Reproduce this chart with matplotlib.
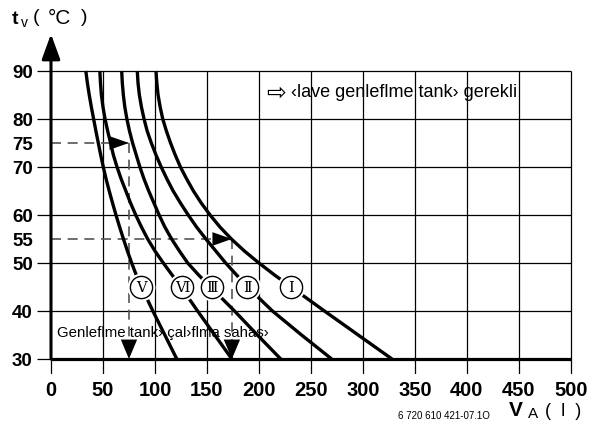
# Expansion vessel sizing chart: flow temperature vs. system volume
import matplotlib.pyplot as plt

temps = [90, 87.5, 85, 82.5, 80, 77.5, 75, 72.5, 70, 67.5, 65, 62.5, 60,
         57.5, 55, 52.5, 50, 47.5, 45, 42.5, 40, 35, 30]
vol_V = [33.5, 35, 36.8, 38.8, 41, 43.2, 45.5, 47.8, 50.3, 53, 56, 59.2, 62.5,
         66, 69.7, 73.5, 77.6, 82, 87, 92.5, 98, 109.5, 121]
vol_VI = [47, 47.6, 48.5, 50, 52, 54.5, 57.3, 60, 63.5, 67.5, 72, 76.5, 81.5,
          87, 93, 100, 108, 116.5, 125, 133, 141, 157.5, 174]
vol_III = [68, 68.6, 69.6, 71, 73, 75.5, 78.5, 82, 85.5, 89.5, 94, 99, 104,
           109.5, 116, 123.5, 131.5, 142, 153.5, 165, 176.5, 198.5, 221]
vol_II = [83, 83.7, 85, 87, 89.5, 92.5, 96.5, 101, 106, 111.5, 117.5, 124.5, 132,
          140, 149, 158.5, 168, 178.5, 189.5, 201, 213, 241, 270]
vol_I = [101, 101.8, 103, 105, 107.5, 111, 115, 119.5, 124.5, 130.5, 137, 144.5, 153,
         162.5, 173.5, 186, 200, 215, 231, 247, 263, 295.5, 328]
curves = [vol_V, vol_VI, vol_III, vol_II, vol_I]

label_names = ['Ⅴ', 'Ⅵ', 'Ⅲ', 'Ⅱ', 'Ⅰ']
label_x = [87, 126, 155, 189, 231]
label_t = 45

x_ticks = [0, 50, 100, 150, 200, 250, 300, 350, 400, 450, 500]
y_ticks = [30, 40, 50, 55, 60, 70, 75, 80, 90]
grid_t = [40, 50, 60, 70, 80, 90]

# dashed reading examples (temperature -> volume)
ex_t = [75, 55]
ex_v = [75, 174]

plt.rcParams['font.family'] = ['Liberation Sans', 'DejaVu Sans']

fig = plt.figure(figsize=(5.92, 4.31), dpi=100)
W, H = 592, 431
ax = fig.add_axes([37 / W, 1 - 375 / H, (576 - 37) / W, (375 - 35) / H])
ax.set_xlim(-13.46, 505)
ax.set_ylim(26.875, 97.7)
for s in ax.spines.values():
    s.set_visible(False)

# grid
ax.hlines(grid_t, -13.46, 500, color='k', lw=0.9, zorder=1)
ax.hlines(30, -13.46, 0, color='k', lw=0.9, zorder=1)
ax.vlines(x_ticks[1:], 26.875, 90, color='k', lw=0.9, zorder=1)
ax.vlines(0, 26.875, 30, color='k', lw=0.9, zorder=1)

# axes lines
ax.plot([0, 500], [30, 30], color='k', lw=2.3, solid_capstyle='butt', zorder=3)
ax.annotate('', xy=(0, 97.7), xytext=(0, 30),
            arrowprops=dict(arrowstyle='-|>,head_length=1.1,head_width=0.4',
                            lw=2.2, color='k', mutation_scale=14,
                            shrinkA=0, shrinkB=0), zorder=3)

ax.set_xticks(x_ticks)
ax.set_yticks(y_ticks)
ax.tick_params(length=0)
ax.tick_params(axis='x', pad=4, labelsize=14.5)
ax.tick_params(axis='y', pad=3, labelsize=13.5)
for lab in ax.get_xticklabels() + ax.get_yticklabels():
    lab.set_fontweight('bold')

# dashed example lines
dash_col = '#555555'
for t, v in zip(ex_t, ex_v):
    ax.plot([0, v], [t, t], color=dash_col, lw=1.2, ls=(0, (6, 4)), zorder=2)
    ax.plot([v, v], [t, 30], color=dash_col, lw=1.2, ls=(0, (6, 4)), zorder=2)
    ax.annotate('', xy=(v, t), xytext=(v - 14, t),
                arrowprops=dict(arrowstyle='-|>,head_length=1.0,head_width=0.35',
                                color='k', lw=0, mutation_scale=14,
                                shrinkA=0, shrinkB=0), zorder=4)
    ax.annotate('', xy=(v, 30), xytext=(v, 33.2),
                arrowprops=dict(arrowstyle='-|>,head_length=1.0,head_width=0.42',
                                color='k', lw=0, mutation_scale=14,
                                shrinkA=0, shrinkB=0), zorder=4)

# curves
for vols in curves:
    ax.plot(vols, temps, color='k', lw=2.4, solid_capstyle='butt',
            solid_joinstyle='round', zorder=3)

# curve labels in circles
ax.plot(label_x, [label_t] * 5, 'o', ms=20, mfc='w', mec='w', mew=0, zorder=5)
ax.plot(label_x, [label_t] * 5, 'o', ms=16, mfc='w', mec='k', mew=1.0, zorder=6)
for x, name in zip(label_x, label_names):
    ax.text(x, label_t, name, ha='center', va='center', fontsize=10.5,
            family=['DejaVu Serif', 'DejaVu Sans'], zorder=7)

# annotations
ax.text(207, 85.7, '⇨', fontsize=17, family='DejaVu Sans', ha='left', va='center',
        zorder=2)
ax.text(231, 85.7, '‹lave genleflme tank› gerekli', fontsize=13, ha='left',
        va='center', zorder=2)
ax.text(6, 35.6, 'Genleflme tank› çal›flma sahas›', fontsize=10.8, ha='left',
        va='center', zorder=2)

# axis titles
fig.text(12 / W, 1 - 19 / H, 't', fontsize=14, fontweight='bold', ha='left', va='center')
fig.text(21 / W, 1 - 23 / H, 'v', fontsize=10, ha='left', va='center')
fig.text(33 / W, 1 - 18 / H, '(', fontsize=14, ha='left', va='center')
fig.text(48 / W, 1 - 18 / H, '°C', fontsize=15, ha='left', va='center')
fig.text(81 / W, 1 - 18 / H, ')', fontsize=14, ha='left', va='center')

fig.text(509 / W, 1 - 411 / H, 'V', fontsize=15, fontweight='bold', ha='left', va='center')
fig.text(528 / W, 1 - 414 / H, 'A', fontsize=11, ha='left', va='center')
fig.text(545 / W, 1 - 412 / H, '(  l  )', fontsize=13, ha='left', va='center')
fig.text(398 / W, 1 - 416 / H, '6 720 610 421-07.1O', fontsize=7, ha='left', va='center')

fig.savefig('out.png', dpi=100)
